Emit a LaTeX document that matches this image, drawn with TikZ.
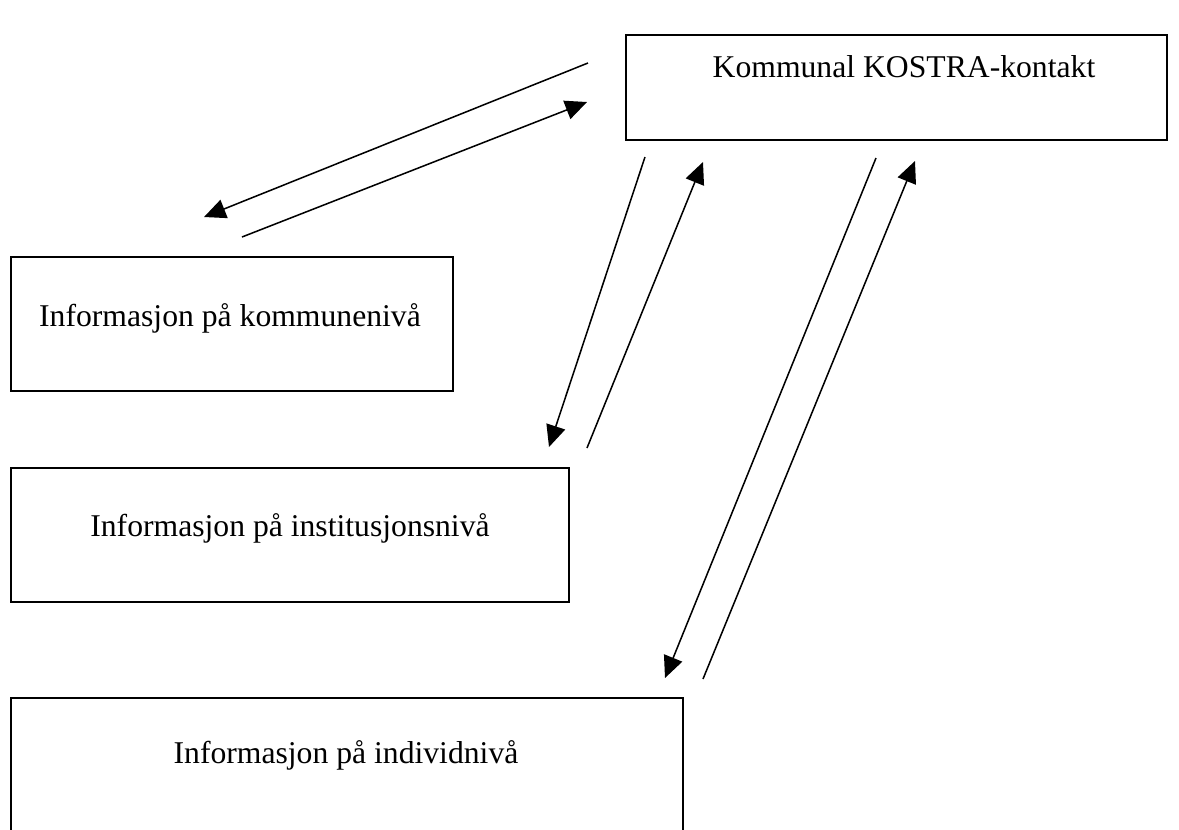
\documentclass[tikz,border=0pt]{standalone}
\usepackage{fontspec}
\setmainfont{Liberation Serif}
\usepackage{tikz}
\usetikzlibrary{arrows.meta}
\newdimen\pxu
\pxu=0.36pt

\tikzset{
  levelbox/.style={draw, line width=0.85pt, rectangle, inner sep=0pt},
  levellabel/.style={font=\fontsize{11.4}{14}\selectfont, inner sep=0pt, anchor=base},
  flow/.style={line width=0.55pt, -{Triangle[length=7.8pt, width=7pt]}}
}

\begin{document}
\begin{tikzpicture}[x=0.36pt, y=-0.36pt, line join=miter]
  \clip (0,0) rectangle (1179,829);
  \useasboundingbox (0,0) rectangle (1179,829);
  % boxes
  \node[levelbox, minimum width=541\pxu, minimum height=105\pxu] (kostra) at (896.5,87.5) {};
  \node[levelbox, minimum width=442\pxu, minimum height=134\pxu] (kommune) at (232,324) {};
  \node[levelbox, minimum width=558\pxu, minimum height=134\pxu] (institusjon) at (290,535) {};
  \node[levelbox, minimum width=672\pxu, minimum height=180\pxu] (individ) at (347,788) {};
  % texts
  \node[levellabel] (kostratxt) at (904,77) {Kommunal KOSTRA-kontakt};
  \node[levellabel] (kommunetxt) at (230,326) {Informasjon på kommunenivå};
  \node[levellabel] (institusjontxt) at (290,536) {Informasjon på institusjonsnivå};
  \node[levellabel] (individtxt) at (346,763) {Informasjon på individnivå};
  % arrow ends
  \coordinate (k1s) at (588,63);   \coordinate (k1e) at (204,217);
  \coordinate (k2s) at (242,237);  \coordinate (k2e) at (587,102);
  \coordinate (i1s) at (645,157);  \coordinate (i1e) at (549,447);
  \coordinate (i2s) at (587,448);  \coordinate (i2e) at (703,162);
  \coordinate (d1s) at (876,158);  \coordinate (d1e) at (665,678);
  \coordinate (d2s) at (703,679);  \coordinate (d2e) at (915,161);
  % arrows
  \draw[flow] (k1s) -- (k1e);
  \draw[flow] (k2s) -- (k2e);
  \draw[flow] (i1s) -- (i1e);
  \draw[flow] (i2s) -- (i2e);
  \draw[flow] (d1s) -- (d1e);
  \draw[flow] (d2s) -- (d2e);
\end{tikzpicture}
\end{document}
